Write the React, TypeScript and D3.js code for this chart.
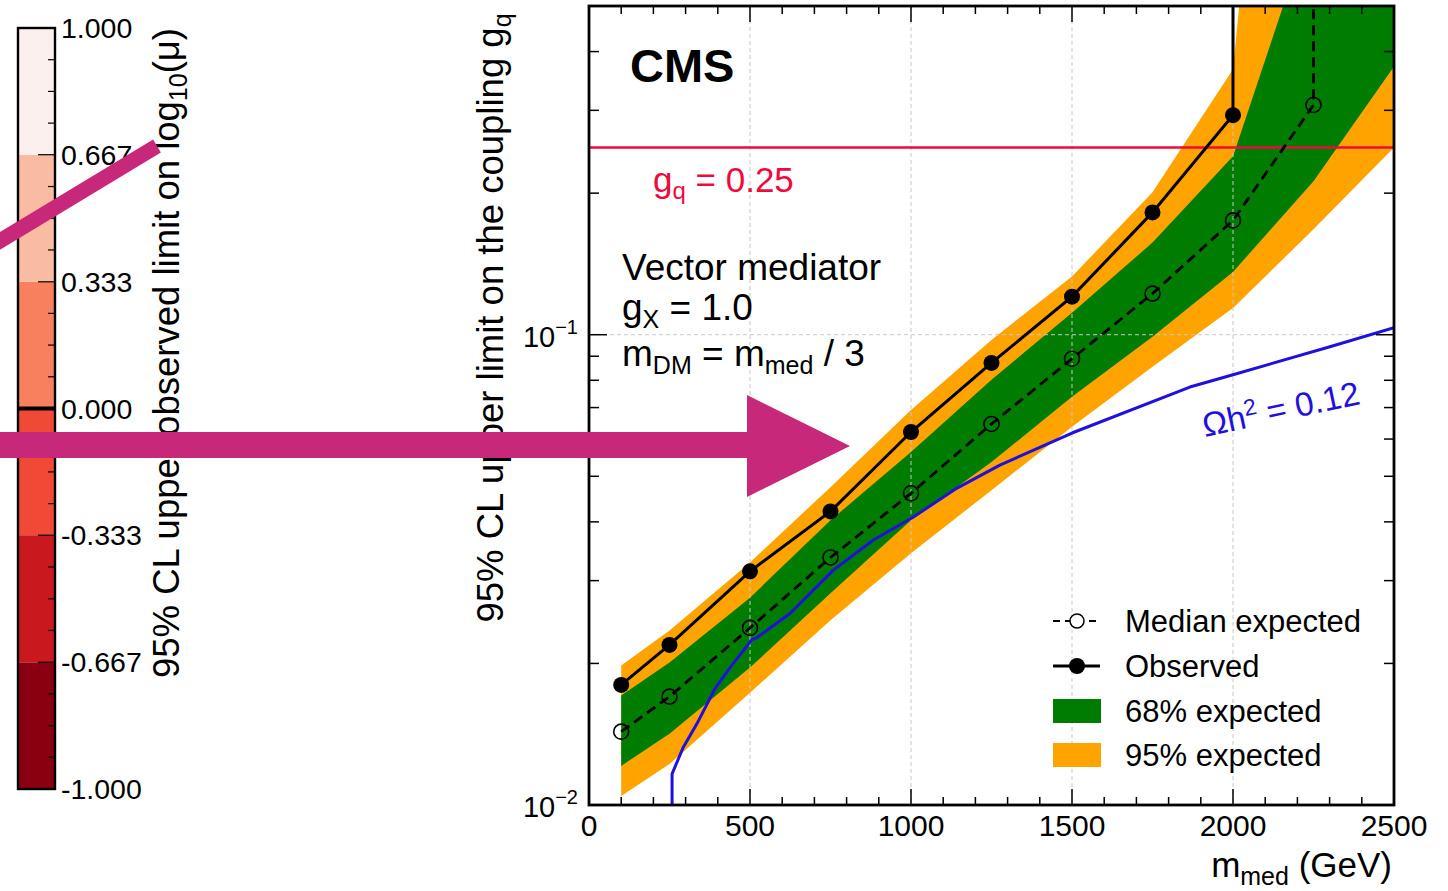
import React from "react";
import * as d3 from "d3";

// ---- Limit data (vector mediator, g_chi = 1, m_DM = m_med / 3) ----
const massPoints = [100, 250, 500, 750, 1000, 1250, 1500, 1750, 2000];
const observedLimit = [0.018, 0.0219, 0.0314, 0.0421, 0.0621, 0.0871, 0.1205, 0.182, 0.293];

const expectedMass = [100, 250, 500, 750, 1000, 1250, 1500, 1750, 2000, 2250];
const expectedLimit = [0.01432, 0.017, 0.0238, 0.0336, 0.046, 0.0646, 0.0889, 0.1223, 0.175, 0.308];

const bandMass = [100, 250, 500, 750, 1000, 1250, 1500, 1750, 2000, 2250, 2500];
const band95Up = [0.0198, 0.0235, 0.0328, 0.0474, 0.0692, 0.0975, 0.133, 0.2008, 0.367, 20, 30];
const band68Up = [0.0171, 0.0201, 0.0276, 0.0403, 0.0563, 0.0802, 0.1114, 0.157, 0.2396, 0.78, 1.5];
const band68Down = [0.01211, 0.01417, 0.0196, 0.0282, 0.0403, 0.0536, 0.0738, 0.099, 0.136, 0.212, 0.372];
const band95Down = [0.01045, 0.01223, 0.01733, 0.0247, 0.0343, 0.0467, 0.0637, 0.0855, 0.114, 0.1675, 0.25];

// Relic density curve Omega h^2 = 0.12
const relicMass = [258, 258, 292, 335, 391, 438, 506, 522, 624, 758, 882, 1006, 1143, 1276, 1500, 1866, 2000, 2301, 2500];
const relicCoupling = [0.005, 0.01165, 0.01323, 0.01488, 0.01767, 0.0196, 0.02247, 0.0227, 0.02554, 0.03154, 0.03655, 0.0409, 0.0472, 0.0528, 0.0618, 0.0774, 0.0822, 0.0943, 0.1035];

const gqReference = 0.25;

// ---- Axis ticks ----
const xMajorTicks = [0, 500, 1000, 1500, 2000, 2500];
const xMinorTicks = d3.range(0, 2501, 100).filter((v) => v % 500 !== 0);
const yMajorTicks = [0.01, 0.1];
const yMinorTicks = [0.02, 0.03, 0.04, 0.05, 0.06, 0.07, 0.08, 0.09, 0.2, 0.3, 0.4];
const xGrid = [500, 1000, 1500, 2000];
const yGrid = [0.1];

// ---- Colour bar (log10 mu) ----
const cbLevels = [-1, -0.667, -0.333, 0, 0.333, 0.667, 1];
const cbColors = ["#8a0012", "#c9181e", "#f04a37", "#f8805f", "#f9bca2", "#fcf0ee"];
const cbTickLabels = ["-1.000", "-0.667", "-0.333", "0.000", "0.333", "0.667", "1.000"];

const FONT = "'Liberation Sans', Arial, Helvetica, sans-serif";
const GREEN = "#007d00";
const ORANGE = "#ffa300";
const RED = "#ee0a3c";
const BLUE = "#1f10e0";
const MAGENTA = "#c8287a";

export default function App() {
  const W = 1448;
  const H = 891;
  const plot = { left: 589, right: 1394, top: 6, bottom: 805 };

  const x = d3.scaleLinear().domain([0, 2500]).range([plot.left, plot.right]);
  const y = d3.scaleLog().domain([0.01, 0.5]).range([plot.bottom, plot.top]);
  const yTop = y.domain()[1];

  const bandPts = bandMass.map((m, i) => ({
    m,
    u95: band95Up[i],
    u68: band68Up[i],
    d68: band68Down[i],
    d95: band95Down[i],
  }));
  const area95 = d3
    .area<any>()
    .x((d) => x(d.m))
    .y0((d) => y(d.d95))
    .y1((d) => y(d.u95));
  const area68 = d3
    .area<any>()
    .x((d) => x(d.m))
    .y0((d) => y(d.d68))
    .y1((d) => y(d.u68));

  const line = d3
    .line<[number, number]>()
    .x((d) => x(d[0]))
    .y((d) => y(d[1]));

  const obsPts: [number, number][] = massPoints.map((m, i) => [m, observedLimit[i]]);
  const expPts: [number, number][] = expectedMass.map((m, i) => [m, expectedLimit[i]]);
  // Limits lose sensitivity past the last point: continue straight up
  const obsLine = [...obsPts, [massPoints[massPoints.length - 1], yTop] as [number, number]];
  const expLine = [...expPts, [expectedMass[expectedMass.length - 1], yTop] as [number, number]];
  const relicPts: [number, number][] = relicMass.map((m, i) => [m, relicCoupling[i]]);

  // colour bar scale
  const cbX = 18;
  const cbW = 37;
  const cy = d3.scaleLinear().domain([-1, 1]).range([789, 28]);
  const cbMinor = d3.range(-12, 13).map((k) => k / 12).filter((v) => Math.abs(v * 3 - Math.round(v * 3)) > 1e-6);

  const axisStyle = { stroke: "#000", strokeWidth: 1.5 };

  return (
    <svg
      width={W}
      height={H}
      viewBox={`0 0 ${W} ${H}`}
      style={{ position: "absolute", left: 0, top: 0, background: "#fff" }}
      fontFamily={FONT}
    >
      <rect x={0} y={0} width={W} height={H} fill="#fff" />

      {/* ---------- colour bar ---------- */}
      <g>
        {cbColors.map((c, i) => (
          <rect
            key={"cb" + i}
            x={cbX}
            y={cy(cbLevels[i + 1])}
            width={cbW}
            height={cy(cbLevels[i]) - cy(cbLevels[i + 1])}
            fill={c}
          />
        ))}
        <line x1={cbX} x2={cbX + cbW} y1={cy(0)} y2={cy(0)} stroke="#000" strokeWidth={4} />
        {cbLevels.map((v, i) => (
          <line key={"cbt" + i} x1={cbX + cbW - 17} x2={cbX + cbW} y1={cy(v)} y2={cy(v)} stroke="#000" strokeWidth={1.2} />
        ))}
        {cbMinor.map((v, i) => (
          <line key={"cbm" + i} x1={cbX + cbW - 7} x2={cbX + cbW} y1={cy(v)} y2={cy(v)} stroke="#000" strokeWidth={1.2} />
        ))}
        <rect x={cbX} y={cy(1)} width={cbW} height={cy(-1) - cy(1)} fill="none" stroke="#000" strokeWidth={2.4} />
        {cbLevels.map((v, i) => (
          <text key={"cbl" + i} x={61} y={cy(v) + 10} fontSize={28.5} fill="#000">
            {cbTickLabels[i]}
          </text>
        ))}
        <text
          transform={`translate(179, 353) rotate(-90)`}
          textAnchor="middle"
          fontSize={36.5}
          fill="#000"
        >
          95% CL upper observed limit on log
          <tspan dy={8} fontSize={25}>10</tspan>
          <tspan dy={-8}>(μ)</tspan>
        </text>
      </g>

      {/* ---------- limit plot ---------- */}
      <defs>
        <clipPath id="plotClip">
          <rect x={plot.left} y={plot.top} width={plot.right - plot.left} height={plot.bottom - plot.top} />
        </clipPath>
      </defs>

      <g clipPath="url(#plotClip)">
        <path d={area95(bandPts) || ""} fill={ORANGE} />
        <path d={area68(bandPts) || ""} fill={GREEN} />

        {xGrid.map((v) => (
          <line key={"gx" + v} x1={x(v)} x2={x(v)} y1={plot.top} y2={plot.bottom} stroke="#c8c8c8" strokeWidth={1} strokeDasharray="4,3" />
        ))}
        {yGrid.map((v) => (
          <line key={"gy" + v} x1={plot.left} x2={plot.right} y1={y(v)} y2={y(v)} stroke="#c8c8c8" strokeWidth={1} strokeDasharray="4,3" />
        ))}

        <line x1={plot.left} x2={plot.right} y1={y(gqReference)} y2={y(gqReference)} stroke={RED} strokeWidth={2.4} />

        <path d={line(relicPts) || ""} fill="none" stroke={BLUE} strokeWidth={3} strokeLinejoin="round" />

        <path d={line(expLine) || ""} fill="none" stroke="#000" strokeWidth={2.8} strokeDasharray="10,6" />
        {expPts.map((p, i) => (
          <circle key={"ec" + i} cx={x(p[0])} cy={y(p[1])} r={7.5} fill="none" stroke="#000" strokeWidth={1.6} />
        ))}

        <path d={line(obsLine) || ""} fill="none" stroke="#000" strokeWidth={3} />
        {obsPts.map((p, i) => (
          <circle key={"oc" + i} cx={x(p[0])} cy={y(p[1])} r={8} fill="#000" />
        ))}
      </g>

      {/* axes ticks: bottom/top */}
      {xMajorTicks.map((v) => (
        <g key={"xt" + v}>
          <line x1={x(v)} x2={x(v)} y1={plot.bottom} y2={plot.bottom - 16} {...axisStyle} />
          <line x1={x(v)} x2={x(v)} y1={plot.top} y2={plot.top + 16} {...axisStyle} />
          <text x={x(v)} y={836} textAnchor="middle" fontSize={30} fill="#000">
            {v}
          </text>
        </g>
      ))}
      {xMinorTicks.map((v) => (
        <g key={"xm" + v}>
          <line x1={x(v)} x2={x(v)} y1={plot.bottom} y2={plot.bottom - 8} {...axisStyle} />
          <line x1={x(v)} x2={x(v)} y1={plot.top} y2={plot.top + 8} {...axisStyle} />
        </g>
      ))}
      {/* axes ticks: left/right */}
      {yMajorTicks.map((v) => (
        <g key={"yt" + v}>
          <line x1={plot.left} x2={plot.left + 18} y1={y(v)} y2={y(v)} {...axisStyle} />
          <line x1={plot.right} x2={plot.right - 18} y1={y(v)} y2={y(v)} {...axisStyle} />
          <text x={578} y={y(v) + 12} textAnchor="end" fontSize={29} fill="#000">
            10
            <tspan dy={-13} fontSize={20}>
              {"\u2212" + Math.round(-Math.log10(v))}
            </tspan>
          </text>
        </g>
      ))}
      {yMinorTicks.map((v) => (
        <g key={"ym" + v}>
          <line x1={plot.left} x2={plot.left + 10} y1={y(v)} y2={y(v)} {...axisStyle} />
          <line x1={plot.right} x2={plot.right - 10} y1={y(v)} y2={y(v)} {...axisStyle} />
        </g>
      ))}

      <rect
        x={plot.left}
        y={plot.top}
        width={plot.right - plot.left}
        height={plot.bottom - plot.top}
        fill="none"
        stroke="#000"
        strokeWidth={2.8}
      />

      {/* axis titles */}
      <text x={1392} y={877} textAnchor="end" fontSize={35} fill="#000">
        m<tspan dy={8} fontSize={25}>med</tspan>
        <tspan dy={-8}> (GeV)</tspan>
      </text>
      <text transform="translate(503, 318) rotate(-90)" textAnchor="middle" fontSize={36.5} fill="#000">
        95% CL upper limit on the coupling g
        <tspan dy={8} fontSize={25}>q</tspan>
      </text>

      {/* annotations */}
      <text x={630} y={82} fontSize={47} fontWeight="bold" fill="#000">
        CMS
      </text>
      <text x={653} y={192} fontSize={35} fill={RED}>
        g<tspan dy={7} fontSize={24}>q</tspan>
        <tspan dy={-7}> = 0.25</tspan>
      </text>
      <text x={622} y={280} fontSize={37} fill="#000">
        Vector mediator
      </text>
      <text x={622} y={320} fontSize={37} fill="#000">
        g<tspan dy={8} fontSize={25}>X</tspan>
        <tspan dy={-8}> = 1.0</tspan>
      </text>
      <text x={622} y={366} fontSize={37} fill="#000">
        m<tspan dy={8} fontSize={25}>DM</tspan>
        <tspan dy={-8}> = m</tspan>
        <tspan dy={8} fontSize={25}>med</tspan>
        <tspan dy={-8}> / 3</tspan>
      </text>
      <text transform="translate(1205, 437) rotate(-12)" fontSize={33.5} fill={BLUE}>
        Ωh<tspan dy={-12} fontSize={23}>2</tspan>
        <tspan dy={12}> = 0.12</tspan>
      </text>

      {/* legend */}
      <g>
        <line x1={1053} x2={1100} y1={621} y2={621} stroke="#000" strokeWidth={2} strokeDasharray="7,5" />
        <circle cx={1077} cy={621} r={7} fill="#fff" stroke="#000" strokeWidth={1.5} />
        <text x={1125} y={632} fontSize={31} fill="#000">Median expected</text>

        <line x1={1053} x2={1100} y1={666} y2={666} stroke="#000" strokeWidth={2.8} />
        <circle cx={1077} cy={666} r={8} fill="#000" />
        <text x={1125} y={677} fontSize={31} fill="#000">Observed</text>

        <rect x={1053} y={699} width={48} height={24} fill={GREEN} />
        <text x={1125} y={722} fontSize={31} fill="#000">68% expected</text>

        <rect x={1053} y={743} width={48} height={24} fill={ORANGE} />
        <text x={1125} y={766} fontSize={31} fill="#000">95% expected</text>
      </g>

      {/* pointer overlays */}
      <line x1={-30} y1={259} x2={157} y2={146} stroke={MAGENTA} strokeWidth={15} />
      <rect x={-5} y={432} width={753} height={26} fill={MAGENTA} />
      <polygon points="747,395 850,446 747,497" fill={MAGENTA} />
    </svg>
  );
}
